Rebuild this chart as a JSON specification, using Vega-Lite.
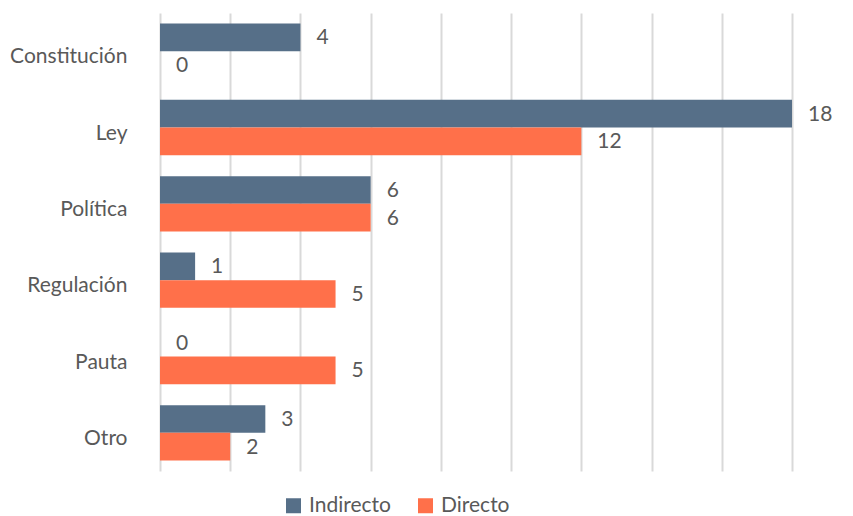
{
  "$schema": "https://vega.github.io/schema/vega-lite/v6.json",
  "autosize": {"type": "none"},
  "padding": {"left": 160, "top": 13, "right": 61, "bottom": 45},
  "width": 632,
  "height": 458,
  "background": "white",
  "config": {
    "view": {"stroke": null},
    "font": "Lato",
    "text": {"font": "Lato"}
  },
  "data": {
    "values": [
      {"categoria": "Constitución", "tipo": "Indirecto", "orden": 1, "valor": 4},
      {"categoria": "Constitución", "tipo": "Directo", "orden": 2, "valor": 0},
      {"categoria": "Ley", "tipo": "Indirecto", "orden": 1, "valor": 18},
      {"categoria": "Ley", "tipo": "Directo", "orden": 2, "valor": 12},
      {"categoria": "Política", "tipo": "Indirecto", "orden": 1, "valor": 6},
      {"categoria": "Política", "tipo": "Directo", "orden": 2, "valor": 6},
      {"categoria": "Regulación", "tipo": "Indirecto", "orden": 1, "valor": 1},
      {"categoria": "Regulación", "tipo": "Directo", "orden": 2, "valor": 5},
      {"categoria": "Pauta", "tipo": "Indirecto", "orden": 1, "valor": 0},
      {"categoria": "Pauta", "tipo": "Directo", "orden": 2, "valor": 5},
      {"categoria": "Otro", "tipo": "Indirecto", "orden": 1, "valor": 3},
      {"categoria": "Otro", "tipo": "Directo", "orden": 2, "valor": 2}
    ]
  },
  "encoding": {
    "y": {
      "field": "categoria",
      "type": "nominal",
      "sort": ["Constitución", "Ley", "Política", "Regulación", "Pauta", "Otro"],
      "scale": {"paddingInner": 0.275, "paddingOuter": 0.1375},
      "axis": {
        "title": null,
        "ticks": false,
        "domain": false,
        "labelPadding": 33,
        "labelOffset": 6,
        "labelFontSize": 21,
        "labelColor": "#595959",
        "labelFont": "Lato"
      }
    },
    "yOffset": {
      "field": "tipo",
      "type": "nominal",
      "sort": ["Indirecto", "Directo"],
      "scale": {"paddingInner": 0, "paddingOuter": 0}
    },
    "x": {
      "field": "valor",
      "type": "quantitative",
      "scale": {"domain": [0, 18], "nice": false, "zero": true},
      "axis": {
        "title": null,
        "labels": false,
        "ticks": false,
        "domain": false,
        "values": [0, 2, 4, 6, 8, 10, 12, 14, 16, 18],
        "grid": true,
        "gridColor": "#D9D9D9",
        "gridWidth": 2
      }
    }
  },
  "layer": [
    {
      "mark": {"type": "bar"},
      "encoding": {
        "color": {
          "field": "tipo",
          "type": "nominal",
          "sort": ["Indirecto", "Directo"],
          "scale": {"domain": ["Indirecto", "Directo"], "range": ["#566F88", "#FF704A"]},
          "legend": {
            "title": null,
            "orient": "none",
            "direction": "horizontal",
            "legendX": 123,
            "legendY": 482,
            "symbolType": "square",
            "symbolSize": 225,
            "symbolStrokeWidth": 0,
            "labelFontSize": 21,
            "labelColor": "#595959",
            "labelFont": "Lato",
            "labelOffset": 5,
            "columnPadding": 24
          }
        }
      }
    },
    {
      "mark": {"type": "text", "align": "left", "baseline": "middle", "dx": 16, "dy": 1, "fontSize": 21, "color": "#595959"},
      "encoding": {
        "text": {"field": "valor", "type": "quantitative"}
      }
    }
  ]
}
